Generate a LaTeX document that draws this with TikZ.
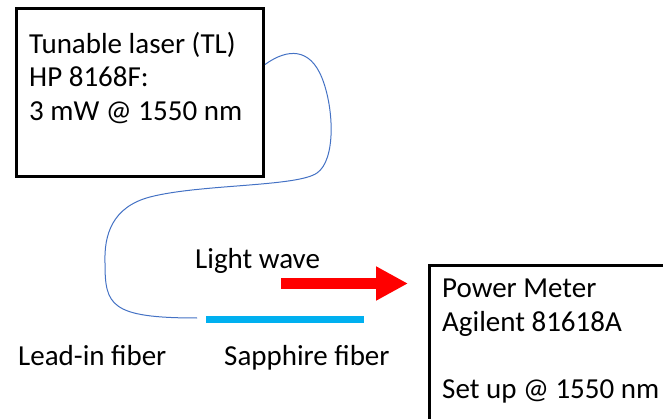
\documentclass[tikz,border=0pt]{standalone}
\usepackage{fontspec}
\setmainfont{Carlito}
\usepackage{tikz}
\usetikzlibrary{arrows.meta, positioning, calc}
\definecolor{fiberblue}{HTML}{4472C4}
\definecolor{sapphirecyan}{HTML}{00B0F0}
\definecolor{wavered}{HTML}{FF0000}
\tikzset{
  devicebox/.style={draw=black, line width=3pt, fill=white, inner sep=0pt},
  boxtext/.style={inner sep=0pt, align=left, font=\fontsize{29}{33.5}\selectfont},
  plaintext/.style={inner sep=0pt, font=\fontsize{29}{33.5}\selectfont},
  leadfiber/.style={draw=fiberblue, line width=1pt},
  sapphireline/.style={draw=sapphirecyan, line width=7pt},
  wavearrow/.style={-{Triangle[length=32pt, width=32pt]}, line width=11pt, wavered},
}

\begin{document}
\begin{tikzpicture}[x=1pt, y=-1pt]
  \clip (0,0) rectangle (663,419);

  % Tunable laser (top left)
  \node[devicebox, minimum width=247pt, minimum height=168pt, anchor=north west] (tl) at (15,7) {};
  \node[boxtext, anchor=north west] (tltext) at ([shift={(14,25)}]tl.north west)
    {Tunable laser (TL)\\ HP 8168F:\\ 3 mW @ 1550 nm};

  % Power meter (bottom right, runs off the page)
  \node[devicebox, minimum width=260pt, minimum height=180pt, anchor=north west] (pm) at (428,264) {};
  \node[boxtext, anchor=north west] (pmtext) at ([shift={(14,15)}]pm.north west)
    {Power Meter\\ Agilent 81618A\\ ~\\ Set up @ 1550 nm};

  % fiber ends
  \coordinate (leadend) at (197,318);
  \coordinate (sapphstart) at (206,319.5);
  \coordinate (sapphend) at (364,319.5);
  \coordinate (wavestart) at (281,283.5);
  \coordinate (wavetip) at (408,283.5);

  % Lead-in fiber
  \draw[leadfiber] ([yshift=28pt]tl.east)
    .. controls (288,48) and (310,48) .. (322,78)
    .. controls (334,108) and (336,160) .. (317,173)
    .. controls (297,187) and (200,184) .. (150,197)
    .. controls (112,207) and (104,235) .. (105,263)
    .. controls (105,305) and (110,318) .. (leadend);

  % Sapphire fiber
  \draw[sapphireline] (sapphstart) -- (sapphend);

  % Light wave
  \draw[wavearrow] (wavestart) -- (wavetip);

  % Labels
  \node[plaintext, anchor=base west] (wavelabel) at (195,269) {Light wave};
  \node[plaintext, anchor=base west] (leadlabel) at (18,365) {Lead-in fiber};
  \node[plaintext, anchor=base west] (sapphlabel) at (224,365) {Sapphire fiber};
\end{tikzpicture}
\end{document}
